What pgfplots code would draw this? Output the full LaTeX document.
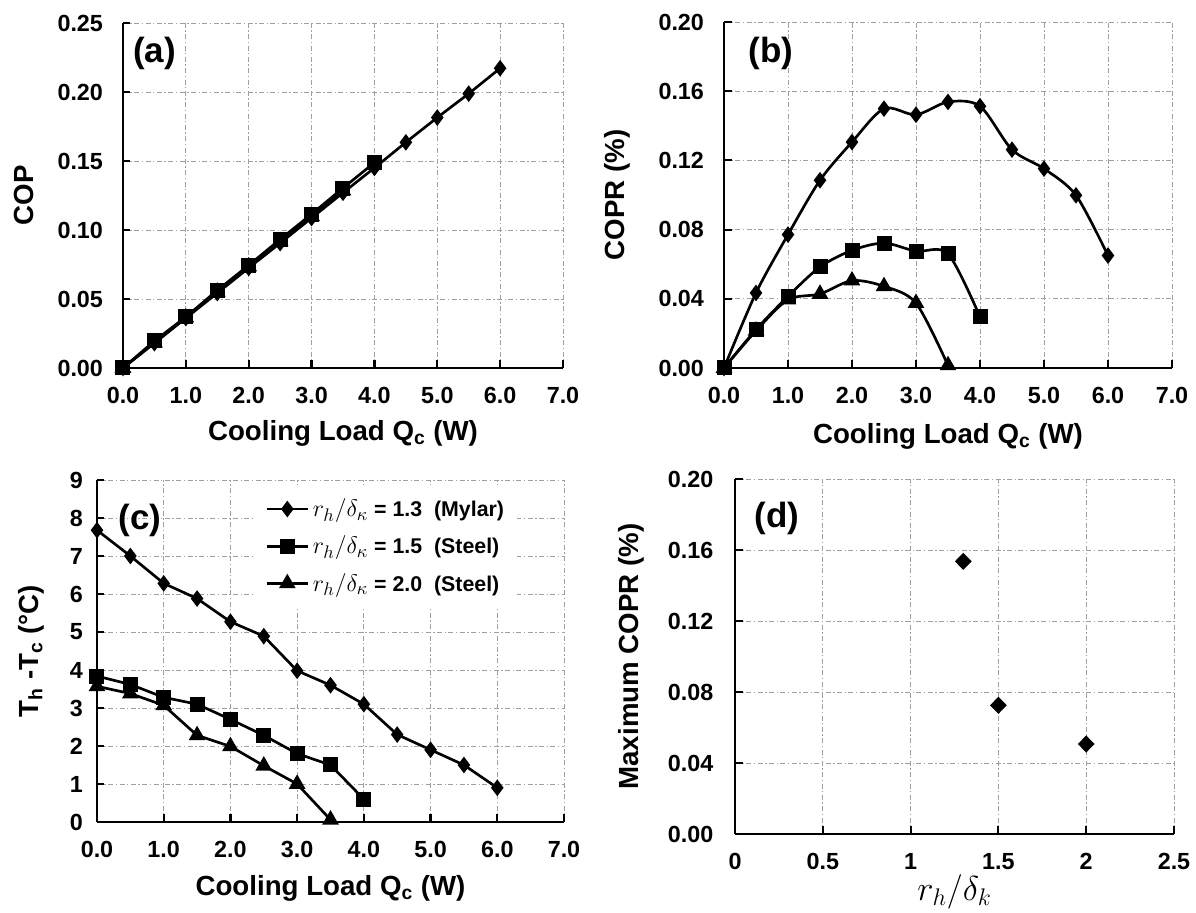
\documentclass[border=0pt]{standalone}
\usepackage{fontspec}
\setmainfont{Liberation Sans}
\usepackage{pgfplots}
\pgfplotsset{compat=1.18}

\tikzset{pnl/.style={font=\bfseries\fontsize{21}{23}\selectfont}}
\newcommand{\rd}[1]{{\fontsize{15.5}{15}\selectfont$r_h/\delta_#1$}}
\pgfplotsset{
  panel/.style={
    scale only axis,
    anchor=south west,
    clip=false,
    axis x line*=bottom,
    axis y line*=left,
    axis line style={line width=1.3pt,-},
    grid=major,
    major grid style={gray!75,line width=0.5pt,dash pattern=on 3pt off 1.5pt on 0.8pt off 1.5pt},
    tick style={black,line width=1.3pt},
    major tick length=4.5pt,
    tick align=inside,
    /pgf/number format/assume math mode=true,
    ticklabel style={font=\bfseries\fontsize{14}{15}\selectfont},
    xticklabel style={yshift=-8pt},
    label style={font=\bfseries\fontsize{16.6}{18}\selectfont},
    every axis plot/.append style={black,line width=1.6pt},
  },
  qaxis/.style={
    xmin=0,xmax=7,xtick={0,1,...,7},
    xticklabel style={/pgf/number format/.cd,fixed,fixed zerofill,precision=1},
    xlabel={Cooling Load Q\textsubscript{c} (W)},
  },
  dia/.style={mark=diamond*,mark size=3.7pt},
  sqr/.style={mark=square*,mark size=3.7pt},
  tri/.style={mark=triangle*,mark size=4.2pt},
}

\begin{document}
\begin{tikzpicture}
\path[use as bounding box] (0,0) rectangle (717.6pt,547.8pt);

% (a) COP
\begin{axis}[panel,qaxis,
    at={(73.8pt,327pt)},width=264pt,height=207pt,
    ymin=0,ymax=0.25,ytick={0,0.05,...,0.25},
    yticklabel style={xshift=-8.5pt,/pgf/number format/.cd,fixed,fixed zerofill,precision=2},
    ylabel={COP},
    ylabel style={at={([xshift=-59.4pt]axis description cs:0,0.5)},anchor=center},
    xlabel style={at={([yshift=-39pt]axis description cs:0.5,0)},anchor=center}]
\addplot[tri] coordinates {(0,0) (0.5,0.0185) (1,0.0365) (1.5,0.0552) (2,0.0735) (2.5,0.0918) (3,0.1100) (3.5,0.1285)};
\addplot[dia] coordinates {(0,0) (0.5,0.018) (1,0.0362) (1.5,0.0543) (2,0.0725) (2.5,0.0905) (3,0.1087) (3.5,0.127) (4,0.145) (4.5,0.1635) (5,0.1815) (5.5,0.1988) (6,0.2172)};
\addplot[sqr] coordinates {(0,0) (0.5,0.0196) (1,0.037) (1.5,0.0563) (2,0.0744) (2.5,0.0932) (3,0.1115) (3.5,0.1304) (4,0.1488)};
\node[pnl] at (axis description cs:0.072,0.912) {(a)};
\end{axis}

% (b) COPR
\begin{axis}[panel,qaxis,
    at={(434.4pt,327pt)},width=268.8pt,height=207.6pt,
    ymin=0,ymax=0.2,ytick={0,0.04,...,0.2},
    yticklabel style={xshift=-8.5pt,/pgf/number format/.cd,fixed,fixed zerofill,precision=2},
    ylabel={COPR (\%)},
    ylabel style={at={([xshift=-64pt]axis description cs:0,0.5)},anchor=center},
    xlabel style={at={([yshift=-40.8pt]axis description cs:0.5,0)},anchor=center}]
\addplot[dia,smooth] coordinates {(0,0) (0.5,0.0434) (1,0.0771) (1.5,0.1085) (2,0.1306) (2.5,0.1499) (3,0.1464) (3.5,0.1538) (4,0.1513) (4.5,0.1262) (5,0.1152) (5.5,0.0998) (6,0.0650)};
\addplot[tri,smooth] coordinates {(0,0) (0.5,0.0215) (1,0.0395) (1.5,0.0428) (2,0.0505) (2.5,0.0472) (3,0.0375) (3.5,0.0015)};
\addplot[sqr,smooth] coordinates {(0,0) (0.5,0.0222) (1,0.0414) (1.5,0.0584) (2,0.068) (2.5,0.0722) (3,0.0675) (3.5,0.0660) (4,0.0295)};
\node[pnl] at (axis description cs:0.105,0.91) {(b)};
\end{axis}

% (c) temperature difference
\begin{axis}[panel,qaxis,
    at={(58.2pt,54.6pt)},width=280.2pt,height=205.2pt,
    ymin=0,ymax=9,ytick={0,1,...,9},
    yticklabel style={xshift=-5pt},
    ylabel={T\textsubscript{h} -T\textsubscript{c} (°C)},
    ylabel style={at={([xshift=-39.6pt]axis description cs:0,0.5)},anchor=center},
    xlabel style={at={([yshift=-39.6pt]axis description cs:0.5,0)},anchor=center},
    legend style={at={(axis description cs:0.338,0.985)},anchor=north west,
      draw=none,fill=white,inner xsep=6pt,inner ysep=6pt,row sep=6pt,
      font=\bfseries\fontsize{12.8}{15}\selectfont},
    legend cell align=left,
    legend image code/.code={\draw[mark repeat=2,mark phase=2] plot coordinates {(0pt,0pt) (12.5pt,0pt) (25pt,0pt)};}]
\addplot[dia] coordinates {(0,7.68) (0.5,7.0) (1,6.28) (1.5,5.88) (2,5.27) (2.5,4.89) (3,3.98) (3.5,3.6) (4,3.1) (4.5,2.3) (5,1.9) (5.5,1.5) (6,0.9)};
\addlegendentry{\rd{\kappa} = 1.3\ \ (Mylar)}
\addplot[sqr] coordinates {(0,3.84) (0.5,3.62) (1,3.28) (1.5,3.1) (2,2.7) (2.5,2.28) (3,1.8) (3.5,1.5) (4,0.6)};
\addlegendentry{\rd{\kappa} = 1.5\ \ (Steel)}
\addplot[tri] coordinates {(0,3.57) (0.5,3.38) (1,3.07) (1.5,2.28) (2,1.99) (2.5,1.48) (3,1.0) (3.5,0.06)};
\addlegendentry{\rd{\kappa} = 2.0\ \ (Steel)}
\node[pnl] at (axis description cs:0.092,0.883) {(c)};
\end{axis}

% (d) maximum COPR
\begin{axis}[panel,
    at={(441pt,47.4pt)},width=263.4pt,height=213pt,
    xmin=0,xmax=2.5,xtick={0,0.5,...,2.5},
    ymin=0,ymax=0.2,ytick={0,0.04,...,0.2},
    yticklabel style={xshift=-9.5pt,/pgf/number format/.cd,fixed,fixed zerofill,precision=2},
    xlabel={$r_h/\delta_k$},
    xlabel style={at={([yshift=-34.8pt]axis description cs:0.5,0)},anchor=center,font=\fontsize{21}{23}\selectfont},
    ylabel={Maximum COPR (\%)},
    ylabel style={at={([xshift=-62pt]axis description cs:0,0.5)},anchor=center}]
\addplot[only marks,mark=diamond*,mark size=4pt,mark options={xscale=1.3}] coordinates {(1.3,0.1536) (1.5,0.0725) (2.0,0.0507)};
\node[pnl] at (axis description cs:0.096,0.89) {(d)};
\end{axis}
\end{tikzpicture}
\end{document}
